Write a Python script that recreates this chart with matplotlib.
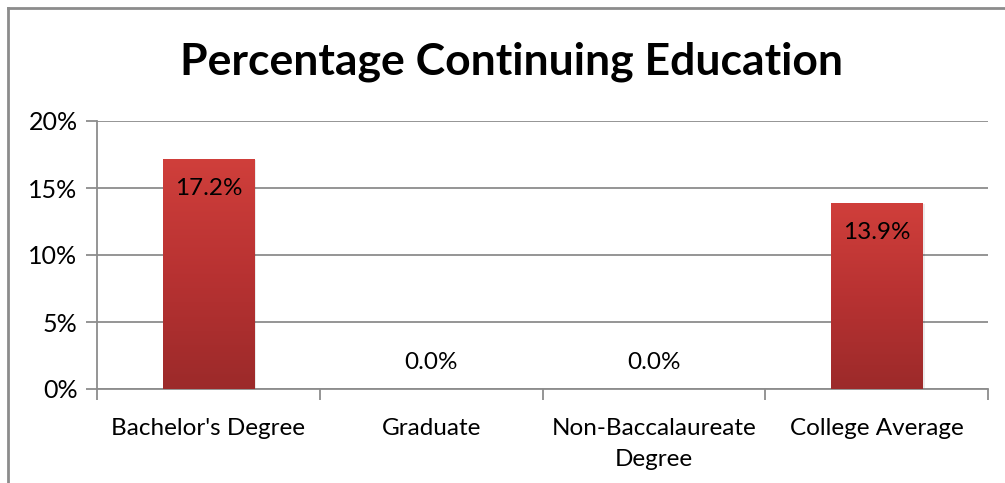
import matplotlib.pyplot as plt
import numpy as np
from matplotlib.colors import LinearSegmentedColormap
from matplotlib.lines import Line2D

categories = ["Bachelor's Degree", "Graduate", "Non-Baccalaureate\nDegree", "College Average"]
values = [17.2, 0.0, 0.0, 13.9]

plt.rcParams['font.family'] = ['Lato', 'DejaVu Sans']

fig = plt.figure(figsize=(10.05, 4.83), dpi=100)
ax = fig.add_axes([97 / 1005, 1 - 389 / 483, (988 - 97) / 1005, (389 - 121) / 483])

x = np.arange(len(categories))
bars = ax.bar(x, values, width=0.41, color='none', zorder=3)

# vertical gradient fill for each bar
cmap = LinearSegmentedColormap.from_list('red', ['#9c2a2a', '#b83232', '#d03f3b'])
grad = np.linspace(0, 1, 256).reshape(-1, 1)
for b in bars:
    h = b.get_height()
    if h <= 0:
        continue
    x0 = b.get_x()
    w = b.get_width()
    # soft shadow on the right
    ax.bar(x0 + w / 2 + 0.01, h, width=w, bottom=-0.08, color='#000000', alpha=0.08, zorder=2)
    im = ax.imshow(grad, extent=[x0, x0 + w, 0, h], origin='lower', cmap=cmap,
                   aspect='auto', zorder=3)
    im.set_clip_path(b)

for xi, v in zip(x, values):
    y = v - 2.2 if v > 0 else 2.0
    ax.text(xi, y, f"{v:.1f}%", ha='center', va='center', fontsize=17.5, color='black', zorder=4)

ax.set_xlim(-0.5, len(categories) - 0.5)
ax.set_ylim(0, 20)
ax.set_yticks([0, 5, 10, 15, 20])
ax.set_yticklabels([f"{t}%" for t in [0, 5, 10, 15, 20]])
ax.yaxis.grid(True, color='#8c8c8c', linewidth=1.3, zorder=0)
ax.set_axisbelow(True)

ax.set_xticks(np.arange(-0.5, len(categories), 1.0), minor=False)
ax.set_xticklabels([])
ax.set_xticks(x, minor=True)
ax.set_xticklabels(categories, minor=True, fontsize=17.5, linespacing=1.6)
ax.tick_params(axis='x', which='minor', length=0, pad=21)
ax.tick_params(axis='x', which='major', length=8, width=1.3, color='#8c8c8c', direction='out')
ax.tick_params(axis='y', length=8, width=1.3, color='#8c8c8c', labelsize=18, pad=6)

for s in ['top', 'right']:
    ax.spines[s].set_visible(False)
for s in ['left', 'bottom']:
    ax.spines[s].set_color('#8c8c8c')
    ax.spines[s].set_linewidth(1.3)

fig.text(512 / 1005, 1 - 62 / 483, "Percentage Continuing Education", ha='center', va='center',
         fontsize=32, fontweight='bold')

# chart area border (left and top)
fig.add_artist(Line2D([8 / 1005, 8 / 1005], [0, 1 - 8 / 483], color='#8c8c8c', linewidth=2,
                      transform=fig.transFigure))
fig.add_artist(Line2D([8 / 1005, 1], [1 - 8 / 483, 1 - 8 / 483], color='#8c8c8c', linewidth=2,
                      transform=fig.transFigure))

fig.savefig('out.png', dpi=100)
